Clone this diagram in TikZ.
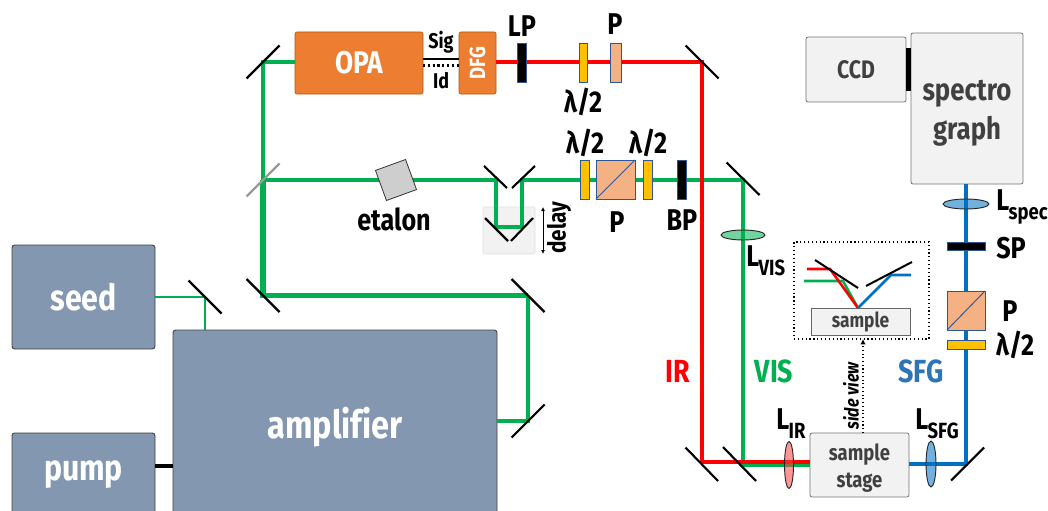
\documentclass[tikz,border=0pt]{standalone}
\usepackage{fontspec}
\setmainfont{Fira Sans}[FakeStretch=0.84,Ligatures=NoCommon]
\usetikzlibrary{shapes.geometric,arrows.meta,calc}
\newcommand{\Lsub}[1]{L\kern-0.02em\raisebox{-0.3em}{\fontsize{16.5}{16.5}\selectfont #1}}
\tikzset{
  x=0.75pt,y=-0.75pt,
  wh/.style 2 args={minimum width=#1*0.75pt,minimum height=#2*0.75pt,inner sep=0pt,outer sep=0pt},
  blockb/.style={draw=black!75,line width=0.7pt,rounded corners=2pt,fill=slate,text=white,font=\fontsize{27}{30}\selectfont\bfseries},
  blocko/.style={draw=orange!70!black,line width=0.5pt,rounded corners=1.5pt,fill=orng,text=white,font=\fontsize{23.5}{25}\selectfont\bfseries},
  blockg/.style={draw=black!55,line width=0.6pt,rounded corners=1.5pt,fill=lgray,text=dgray,font=\fontsize{19}{23}\selectfont\bfseries},
  optic/.style={draw=navy,line width=0.6pt},
  wave/.style={optic,fill=gold},
  cube/.style={optic,fill=salm},
  stopb/.style={optic,fill=black},
  lbl/.style={font=\fontsize{22.5}{24}\selectfont\bfseries,inner sep=0pt},
  small/.style={lbl,font=\fontsize{16}{17}\selectfont\bfseries},
  mir/.style={draw=black,line width=1.6pt},
  beamgreen/.style={draw=grn,line width=2.3pt},
  beamthin/.style={draw=grn,line width=1pt},
  beammid/.style={draw=grn,line width=2.9pt},
  beamthick/.style={draw=grn,line width=3.8pt},
  beamred/.style={draw=red,line width=2.3pt},
  beamblue/.style={draw=blu,line width=2.3pt},
  lens/.style={ellipse,draw=black!85,line width=0.7pt,inner sep=0pt,fill opacity=0.55},
}
\definecolor{slate}{HTML}{8497B0}
\definecolor{orng}{HTML}{ED7D31}
\definecolor{lgray}{HTML}{F2F2F2}
\definecolor{dgray}{HTML}{404040}
\definecolor{navy}{HTML}{2F5597}
\definecolor{gold}{HTML}{FFC000}
\definecolor{salm}{HTML}{F4B183}
\definecolor{grn}{HTML}{00B050}
\definecolor{blu}{HTML}{0070C0}
\definecolor{sfgtext}{HTML}{2E75B6}
\begin{document}
\begin{tikzpicture}
\useasboundingbox (0,0) rectangle (1048,510);
% coordinates for beam turning points
\coordinate (mSeed) at (205,297);
\coordinate (mThickL) at (263,295.5);
\coordinate (mThickR) at (528,295.5);
\coordinate (mAmp) at (528,421);
\coordinate (mSplit) at (263,180);
\coordinate (mTop) at (263,62);
\coordinate (mIRtop) at (702,62);
\coordinate (mIRbot) at (702,462);
\coordinate (mVIStop) at (743,180);
\coordinate (mVISbot) at (743,465);
\coordinate (mSFGbot) at (966,464);
\coordinate (dA) at (496,180);
\coordinate (dB) at (496,227);
\coordinate (dC) at (522,227);
\coordinate (dD) at (522,180);
% delay stage
\node[wh={52}{47},fill=lgray,draw=black!12,line width=0.4pt,rounded corners=1pt] (stage) at (509,230.5) {};
% blocks
\node[blockb,wh={143}{104}] (seed) at (83.5,297) {\raisebox{-1.5pt}{seed}};
\node[blockb,wh={143}{84}] (pump) at (83.5,475) {pump};
\node[blockb,wh={324}{200}] (amp) at (335,430) {};
\node[text=white,font=\fontsize{29}{32}\selectfont\bfseries,inner sep=0pt] (amplabel) at (335,427) {amplifier};
\node[blocko,wh={128}{62}] (opa) at (359,63) {OPA};
\node[blocko,wh={37}{62}] (dfg) at (477.5,63) {\rotatebox{90}{\fontsize{16.5}{17}\selectfont\bfseries DFG}};
\node[blockg,wh={100}{65}] (ccd) at (856,69.5) {CCD};
\node[blockg,wh={112}{151}] (spec) at (967,108.5) {};
\node[align=center,text=dgray,inner sep=0pt,font=\fontsize{23}{29}\selectfont\bfseries] (speclabel) at (967,113) {spectro\\graph};
\node[blockg,wh={99}{64}] (sstage) at (859.5,465) {};
\node[align=center,text=dgray,inner sep=0pt,font=\fontsize{16.5}{20}\selectfont\bfseries] (stagelabel) at (859.5,468) {sample\\stage};
% beams
\draw[beamthin] (seed.east |- mSeed) -- (mSeed) -- (mSeed |- amp.north);
\draw[beammid] (amp.east |- mAmp) -- (mAmp) -- (mThickR);
\draw[beamthick] (mThickR) -- (mThickL) -- (mSplit);
\draw[beamgreen] (mSplit) -- (mTop) -- (mTop -| opa.west);
\draw[beamgreen] (mSplit) -- (dA) -- (dB) -- (dC) -- (dD) -- (mVIStop) -- (mVISbot) -- (mVISbot -| sstage.west);
\draw[beamred] (dfg.east |- mIRtop) -- (mIRtop) -- (mIRbot) -- (mIRbot -| sstage.west);
\draw[beamblue] (sstage.east |- mSFGbot) -- (mSFGbot) -- (mSFGbot |- spec.south);
% connections without beams
\draw[line width=2.4pt] (pump.east |- 0,466) -- (amp.west |- 0,466);
\draw[line width=1.6pt] (opa.east |- 0,59) -- (dfg.west |- 0,59);
\draw[line width=1.6pt,dotted] (opa.east |- 0,65.5) -- (dfg.west |- 0,65.5);
% mirrors
\draw[mir] (mSeed) +(-16.5,-16.5) -- +(16.5,16.5);
\draw[mir] (mThickL) +(-16.5,-16.5) -- +(16.5,16.5);
\draw[mir] (mThickR) +(-16.5,-16.5) -- +(16.5,16.5);
\draw[mir] (mAmp) +(-16.5,16.5) -- +(16.5,-16.5);
\draw[mir,draw=black!40] (mSplit) +(-16.5,16.5) -- +(16.5,-16.5);
\draw[mir] (mTop) +(-16.5,16.5) -- +(16.5,-16.5);
\draw[mir] (mIRtop) +(-16.5,-16.5) -- +(16.5,16.5);
\draw[mir] (mIRbot) +(-16.5,-14.5) -- +(16,19);
\draw[mir] (mVIStop) +(-16.5,-17.5) -- +(16.5,15);
\draw[mir] (mVISbot) +(-20,-18) -- +(13,16);
\draw[mir] (mSFGbot) +(-15,16.5) -- +(18,-16.5);
\draw[mir] (dA) +(-12,-14) -- +(11,8);
\draw[mir] (dD) +(-10,8) -- +(13,-14);
\draw[mir] (dB) +(-11,-9) -- +(12,14);
\draw[mir] (dC) +(-11,14) -- +(11,-9);
% optics top row
\node[stopb,wh={9}{39}] (lp) at (521.5,62.5) {};
\node[wave,wh={8}{39}] (hw1) at (583,62.5) {};
\node[cube,wh={11}{39}] (p1) at (615.5,62.5) {};
% optics middle row
\node[wave,wh={9}{39}] (hw2) at (584.5,179.5) {};
\node[cube,wh={39}{39}] (p2) at (615.5,179.5) {};
\draw[navy,line width=0.7pt] (p2.south west) -- (p2.north east);
\node[wave,wh={9}{39}] (hw3) at (647.5,179.5) {};
\node[stopb,wh={9}{39}] (bp) at (681.5,179.5) {};
\node[wh={32}{32},draw=black!80,line width=0.6pt,fill=lgray!85!black,rotate=20] (etalon) at (396,180) {};
% optics right column
\node[stopb,wh={38}{8}] (sp) at (966,246) {};
\node[cube,wh={38}{39}] (p3) at (966,310.5) {};
\draw[navy,line width=0.7pt] (p3.south west) -- (p3.north east);
\node[wave,wh={38}{9}] (hw4) at (966,344.5) {};
\draw[fill=black,draw=none] (906,48) rectangle (911,91);
% lenses
\node[lens,fill=grn,wh={44}{10},ellipse] (lvis) at (743,235) {};
\node[lens,fill=blu,wh={46}{10},ellipse] (lspec) at (966,204) {};
\node[lens,fill=red!75,wh={9}{47},ellipse] (lir) at (789,465) {};
\node[lens,fill=blu,wh={10}{46},ellipse] (lsfg) at (931,464) {};
% delay arrow
\coordinate (delayT) at (543,207);
\coordinate (delayB) at (543,254);
\draw[{Latex[length=3pt,width=3pt]}-{Latex[length=3pt,width=3pt]},line width=0.6pt] (delayT) -- (delayB);
% labels
\node[lbl] (tLP) at (522,26) {LP};
\node[lbl] (th1) at (583,102) {λ/2};
\node[lbl] (tP1) at (615,24) {P};
\node[lbl] (th2) at (585,143) {λ/2};
\node[lbl] (th3) at (648,143) {λ/2};
\node[lbl] (tP2) at (617,222) {P};
\node[lbl] (tBP) at (682,220) {BP};
\node[lbl] (tEt) at (394,219) {etalon};
\node[lbl,rotate=90,font=\fontsize{18.5}{20}\selectfont\bfseries] (tDelay) at (559,228) {delay};
\node[small] (tSig) at (441,42) {Sig};
\node[small] (tId) at (441,81) {Id};
\node[lbl,anchor=west] (tLvis) at (746,261) {\Lsub{VIS}};
\node[lbl,anchor=west] (tLspec) at (996,207) {\Lsub{spec}};
\node[lbl,anchor=west] (tSP) at (996,248) {SP};
\node[lbl] (tP3) at (1010,311) {P};
\node[lbl] (th4) at (1015,345) {λ/2};
\node[lbl,anchor=west] (tLir) at (776,424) {\Lsub{IR}};
\node[lbl,anchor=west] (tLsfg) at (915,424) {\Lsub{SFG}};
\node[lbl,text=red,font=\fontsize{24}{25}\selectfont\bfseries] (tIR) at (678,371) {IR};
\node[lbl,text=grn,font=\fontsize{24}{25}\selectfont\bfseries] (tVIS) at (774,371) {VIS};
\node[lbl,text=sfgtext,font=\fontsize{24}{25}\selectfont\bfseries] (tSFG) at (921,371) {SFG};
% side view inset
\node[wh={135}{97},draw=black,line width=0.9pt,dotted] (inset) at (861.5,290.5) {};
\node[wh={99}{27},draw=black!60,line width=0.7pt,fill=lgray,text=dgray,font=\fontsize{15.5}{17}\selectfont\bfseries] (sample) at (860.5,321.5) {sample};
\coordinate (hit) at (858,308);
\draw[draw=grn,line width=1.9pt] (804,281) -- (843,281) -- (hit);
\draw[draw=red,line width=1.9pt] (807,269) -- (830,269) -- (hit);
\draw[draw=blu,line width=1.9pt] (hit) -- (891,275) -- (911,275);
\draw[line width=1.5pt] (815,260) -- (858,288);
\draw[line width=1.5pt] (866,286) -- (912,262);
\draw[-{Latex[length=4pt,width=4pt]},line width=0.8pt,dotted] (sstage.north -| 863,0) -- (inset.south -| 863,0);
\node[lbl,rotate=90,font=\fontsize{14.5}{15}\selectfont\itshape\bfseries] (tSide) at (851,396) {side view};
\end{tikzpicture}
\end{document}
